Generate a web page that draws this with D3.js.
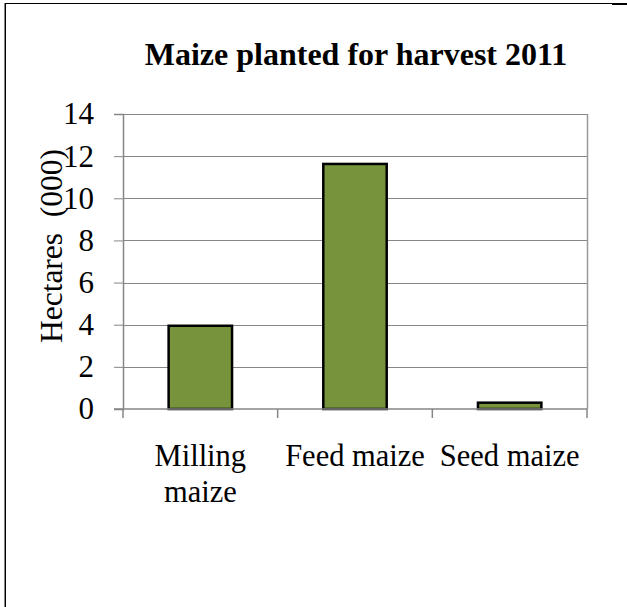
<!DOCTYPE html>
<html>
<head>
<meta charset="utf-8">
<script src="https://cdn.jsdelivr.net/npm/d3@7"></script>
<style>
  body { margin: 0; background: #fff; }
  svg { display: block; font-family: "Liberation Serif", "Times New Roman", serif; }
</style>
</head>
<body>
<script>
// chart data
const categories = [["Milling", "maize"], ["Feed maize"], ["Seed maize"]]
const hectares = [3.95, 11.63, 0.3]
const yTicks = [0, 2, 4, 6, 8, 10, 12, 14]

const W = 627, H = 607
const margin = { top: 114, right: 40, bottom: 198, left: 123 }
    , width = W - margin.left - margin.right
    , height = H - margin.top - margin.bottom

const svg = d3.select('body').append('svg')
    .attr('width', W)
    .attr('height', H)

// outer frame (only top and left edges are visible)
svg.append('line')
    .attr('x1', 4).attr('x2', W).attr('y1', 3.5).attr('y2', 3.5)
    .attr('stroke', '#000').attr('stroke-width', 1)
svg.append('line')
    .attr('x1', 612).attr('x2', W).attr('y1', 4).attr('y2', 4)
    .attr('stroke', '#000').attr('stroke-width', 2)
svg.append('line')
    .attr('x1', 4.5).attr('x2', 4.5).attr('y1', 3).attr('y2', H)
    .attr('stroke', '#888').attr('stroke-width', 1)
svg.append('line')
    .attr('x1', 5.5).attr('x2', 5.5).attr('y1', 3).attr('y2', H)
    .attr('stroke', '#000').attr('stroke-width', 1)

// title
svg.append('text')
    .attr('x', 356)
    .attr('y', 65)
    .attr('text-anchor', 'middle')
    .style('font-size', '32px')
    .style('font-weight', 'bold')
    .text('Maize planted for harvest 2011')

const g = svg.append('g')
    .attr('transform', 'translate(' + margin.left + ',' + margin.top + ')')

const xScale = d3.scaleBand()
    .domain(d3.range(categories.length))
    .range([0, width])
    .paddingInner(0.59)
    .paddingOuter(0.295)

const yScale = d3.scaleLinear()
    .domain([0, 14])
    .range([height, 0])

// gridlines
g.selectAll('.grid').data(yTicks.slice(1))
    .enter().append('line')
    .attr('x1', 0).attr('x2', width)
    .attr('y1', d => Math.round(yScale(d)) + 0.5)
    .attr('y2', d => Math.round(yScale(d)) + 0.5)
    .attr('stroke', '#868686')
    .attr('stroke-width', 1)

// right edge of plot area
g.append('line')
    .attr('x1', width + 0.5).attr('x2', width + 0.5)
    .attr('y1', 0).attr('y2', height)
    .attr('stroke', '#999').attr('stroke-width', 1.5)

// bars
g.selectAll('.bar').data(hectares)
    .enter().append('rect')
    .attr('x', (d, i) => xScale(i))
    .attr('y', d => yScale(d))
    .attr('width', xScale.bandwidth())
    .attr('height', d => height - yScale(d))
    .attr('fill', '#77933C')
    .attr('stroke', '#000')
    .attr('stroke-width', 2.5)

// y axis
const yAxis = g.append('g')
    .call(d3.axisLeft(yScale).tickValues(yTicks).tickSize(9).tickPadding(20))
yAxis.select('.domain').attr('stroke', '#868686').attr('stroke-width', 1.5)
yAxis.selectAll('.tick line').attr('stroke', '#868686')
yAxis.selectAll('.tick text')
    .attr('fill', '#000')
    .style('font-size', '31px')
    .style('font-family', '"Liberation Serif", serif')

// x axis: ticks sit on category boundaries
const boundaries = d3.range(categories.length + 1).map(i => i * width / categories.length)
const xAxisG = g.append('g')
    .attr('transform', 'translate(0,' + height + ')')
xAxisG.append('line')
    .attr('x1', -9).attr('x2', width)
    .attr('y1', 0).attr('y2', 0)
    .attr('stroke', '#868686').attr('stroke-width', 1.5)
xAxisG.selectAll('.xtick').data(boundaries)
    .enter().append('line')
    .attr('x1', d => d).attr('x2', d => d)
    .attr('y1', 0).attr('y2', 9)
    .attr('stroke', '#868686').attr('stroke-width', 1.5)

// category labels
const labels = g.selectAll('.cat').data(categories)
    .enter().append('text')
    .attr('x', (d, i) => xScale(i) + xScale.bandwidth() / 2)
    .attr('y', 466 - margin.top)
    .attr('text-anchor', 'middle')
    .style('font-size', '30.5px')

labels.selectAll('tspan').data(d => d)
    .enter().append('tspan')
    .attr('x', function () { return d3.select(this.parentNode).attr('x') })
    .attr('dy', (d, i) => i === 0 ? 0 : 36)
    .text(d => d)

// y axis title
svg.append('text')
    .attr('text-anchor', 'middle')
    .attr('transform', 'translate(62,' + 246 + ')rotate(-90)')
    .style('font-size', '31.5px')
    .style('white-space', 'pre')
    .attr('xml:space', 'preserve')
    .text('Hectares  (000)')
</script>
</body>
</html>
